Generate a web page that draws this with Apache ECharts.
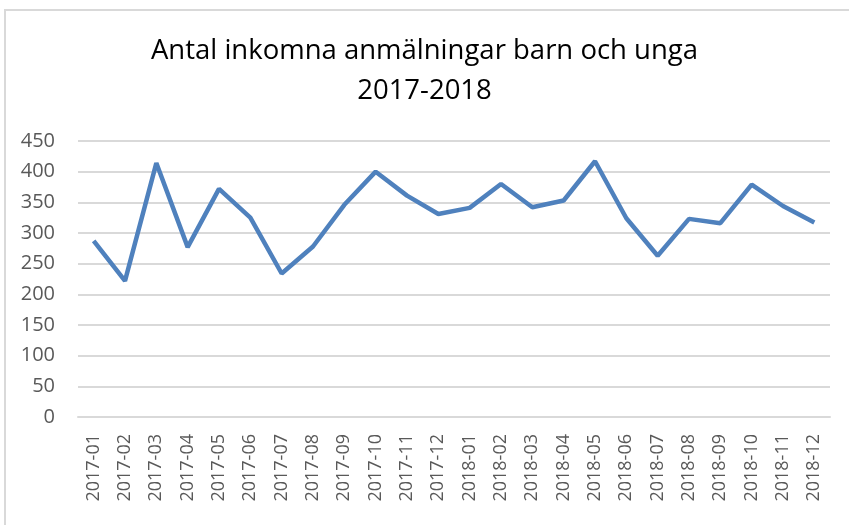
<!DOCTYPE html>
<html><head><meta charset="utf-8">
<script src="https://cdn.jsdelivr.net/npm/echarts@6/dist/echarts.min.js"></script>
<style>html,body{margin:0;padding:0;background:#fff}#c{width:849px;height:525px}</style>
</head><body><div id="c"></div>
<script>
const titleLines = ['Antal inkomna anmälningar barn och unga', '2017-2018'];
const categories = ['2017-01','2017-02','2017-03','2017-04','2017-05','2017-06','2017-07','2017-08','2017-09','2017-10','2017-11','2017-12',
  '2018-01','2018-02','2018-03','2018-04','2018-05','2018-06','2018-07','2018-08','2018-09','2018-10','2018-11','2018-12'];
const values = [287,222,414,277,372,325,234,278,346,400,361,331,341,380,342,353,417,324,263,323,316,379,344,317];
const yMin = 0, yMax = 450, yStep = 50;

const chart = echarts.init(document.getElementById('c'), null, {renderer:'canvas'});
chart.setOption({
  animation:false,
  backgroundColor:'#fff',
  title:{
    text: titleLines.join('\n'),
    left: 'center', top: 26,
    padding:[5,5,5,17],
    textStyle:{fontFamily:'Open Sans', fontSize:27.5, fontWeight:'normal', color:'#000', lineHeight:40}
  },
  graphic:[{type:'rect', shape:{x:5,y:10,width:860,height:530}, style:{fill:'none', stroke:'#d9d9d9', lineWidth:2}, silent:true}],
  grid:{left:78, right:19, top:141, bottom:108, containLabel:false},
  xAxis:{
    type:'category', data:categories, boundaryGap:true,
    axisLine:{show:true, lineStyle:{color:'#d9d9d9', width:2}},
    axisTick:{show:false},
    axisLabel:{rotate:90, color:'#595959', fontFamily:'Open Sans', fontSize:18, margin:17, interval:0}
  },
  yAxis:{
    type:'value', min:yMin, max:yMax, interval:yStep,
    axisLine:{show:false}, axisTick:{show:false},
    axisLabel:{color:'#595959', fontFamily:'Open Sans', fontSize:20, margin:23},
    splitLine:{lineStyle:{color:'#d9d9d9', width:2}}
  },
  series:[{type:'line', data:values, symbol:'none', lineStyle:{color:'#4f81bd', width:4.5}, itemStyle:{color:'#4f81bd'}}]
});
</script></body></html>
